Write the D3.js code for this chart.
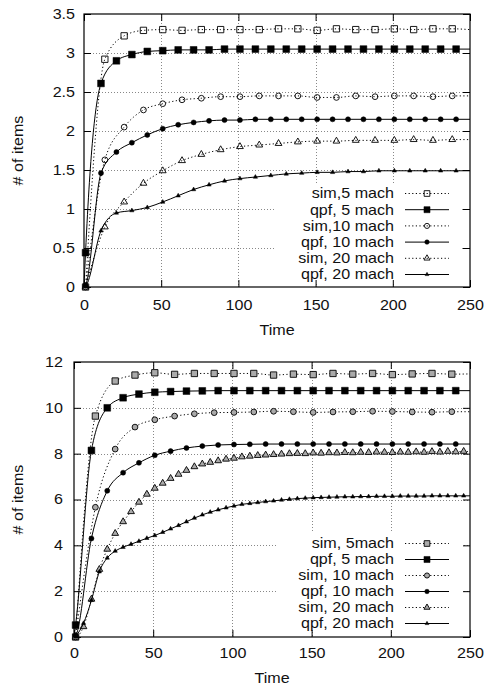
<!DOCTYPE html>
<html>
<head>
<meta charset="utf-8">
<script src="https://cdn.jsdelivr.net/npm/d3@7"></script>
<style>
  body { margin: 0; background: #fff; }
  svg text { font-family: "Liberation Sans", Arial, sans-serif; font-size: 14px; fill: #111; }
</style>
</head>
<body>
<div class="d3-chart"></div>
<script>
// time stamps of the samples (sim every 12.5, qpf every 10, dense runs every 5)
const tSim = [1, 13.5, 26, 38.5, 51, 63.5, 76, 88.5, 101, 113.5, 126, 138.5, 151, 163.5, 176, 188.5, 201, 213.5, 226, 238.5, 250];
const tQpf = [0, 1, 11, 21, 31, 41, 51, 61, 71, 81, 91, 101, 111, 121, 131, 141, 151, 161, 171, 181, 191, 201, 211, 221, 231, 241, 250];
const tFive = [0, 1, 6, 11, 16, 21, 26, 31, 36, 41, 46, 51, 56, 61, 66, 71, 76, 81, 86, 91, 96, 101, 106, 111, 116, 121, 126, 131, 136, 141, 146, 151, 156, 161, 166, 171, 176, 181, 186, 191, 196, 201, 206, 211, 216, 221, 226, 231, 236, 241, 246, 250];

// upper plot
const sim5A = [0, 2.92, 3.22, 3.29, 3.30, 3.29, 3.30, 3.30, 3.30, 3.30, 3.31, 3.31, 3.29, 3.31, 3.30, 3.30, 3.31, 3.30, 3.31, 3.31, 3.30];
const qpf5A = [0, 0.44, 2.61, 2.90, 2.98, 3.02, 3.03, 3.04, 3.04, 3.04, 3.05, 3.05, 3.05, 3.05, 3.05, 3.05, 3.05, 3.05, 3.05, 3.05, 3.05, 3.05, 3.05, 3.05, 3.05, 3.05, 3.05];
const sim10A = [0, 1.63, 2.05, 2.27, 2.35, 2.40, 2.42, 2.44, 2.44, 2.45, 2.45, 2.45, 2.43, 2.43, 2.45, 2.44, 2.45, 2.45, 2.44, 2.45, 2.45];
const qpf10A = [0, 0.02, 1.46, 1.73, 1.85, 1.95, 2.03, 2.08, 2.11, 2.13, 2.14, 2.14, 2.15, 2.15, 2.15, 2.15, 2.15, 2.15, 2.15, 2.15, 2.15, 2.15, 2.15, 2.15, 2.15, 2.15, 2.15];
const sim20A = [0, 0.77, 1.09, 1.33, 1.49, 1.62, 1.70, 1.76, 1.80, 1.82, 1.84, 1.86, 1.87, 1.87, 1.88, 1.88, 1.88, 1.89, 1.88, 1.89, 1.89];
const qpf20A = [0, 0.01, 0.72, 0.95, 0.98, 1.02, 1.09, 1.17, 1.25, 1.31, 1.36, 1.39, 1.41, 1.43, 1.45, 1.46, 1.47, 1.47, 1.48, 1.48, 1.49, 1.49, 1.49, 1.49, 1.49, 1.49, 1.49];

// lower plot
const sim5B = [0, 9.64, 11.17, 11.43, 11.53, 11.46, 11.50, 11.50, 11.50, 11.50, 11.43, 11.47, 11.45, 11.50, 11.47, 11.50, 11.45, 11.48, 11.50, 11.47, 11.48];
const qpf5B = [0, 0.52, 8.14, 10.0, 10.44, 10.6, 10.68, 10.71, 10.73, 10.74, 10.75, 10.75, 10.75, 10.75, 10.75, 10.75, 10.75, 10.75, 10.75, 10.75, 10.75, 10.75, 10.75, 10.75, 10.75, 10.75, 10.75];
const sim10B = [0, 5.66, 8.2, 9.16, 9.48, 9.64, 9.74, 9.79, 9.80, 9.82, 9.85, 9.83, 9.80, 9.82, 9.83, 9.85, 9.84, 9.82, 9.81, 9.83, 9.83];
const qpf10B = [0, 0.05, 4.3, 6.38, 7.17, 7.6, 7.93, 8.11, 8.25, 8.33, 8.38, 8.40, 8.41, 8.42, 8.42, 8.42, 8.42, 8.42, 8.42, 8.42, 8.42, 8.42, 8.42, 8.42, 8.42, 8.42, 8.42];
const sim20B = [0, 0, 0.45, 1.65, 2.95, 3.83, 4.52, 5.03, 5.47, 5.88, 6.23, 6.49, 6.71, 6.92, 7.10, 7.27, 7.43, 7.55, 7.62, 7.69, 7.76, 7.80, 7.86, 7.89, 7.92, 7.94, 7.96, 7.98, 8.00, 8.01, 8.00, 8.03, 8.02, 8.04, 8.03, 8.05, 8.04, 8.06, 8.05, 8.07, 8.06, 8.05, 8.07, 8.06, 8.08, 8.06, 8.09, 8.07, 8.10, 8.08, 8.10, 8.09];
const qpf20B = [0, 0.05, 0.6, 1.6, 2.85, 3.45, 3.75, 3.92, 4.05, 4.18, 4.31, 4.43, 4.57, 4.72, 4.87, 5.03, 5.19, 5.33, 5.45, 5.55, 5.64, 5.72, 5.79, 5.83, 5.87, 5.91, 5.94, 5.98, 6.01, 6.04, 6.06, 6.08, 6.09, 6.10, 6.11, 6.12, 6.12, 6.13, 6.13, 6.14, 6.14, 6.14, 6.15, 6.15, 6.15, 6.15, 6.16, 6.16, 6.16, 6.16, 6.16, 6.16];

const namesTop = ["sim,5 mach", "qpf, 5 mach", "sim,10 mach", "qpf, 10 mach", "sim, 20 mach", "qpf, 20 mach"];
const namesBottom = ["sim, 5mach", "qpf, 5 mach", "sim, 10 mach", "qpf, 10 mach", "sim, 20 mach", "qpf, 20 mach"];

const xTicks = [0, 50, 100, 150, 200, 250];
const yTicksTop = [0, 0.5, 1, 1.5, 2, 2.5, 3, 3.5];
const yTicksBottom = [0, 2, 4, 6, 8, 10, 12];

const W = 486, H = 690;
const STRETCH = 1.15;  // the source font runs wide

const svg = d3.select(".d3-chart").append("svg")
  .attr("width", W).attr("height", H);

// marker + line style per series slot
const styles = [
  {dash: "1.2,2.4", sym: d3.symbolSquare, size: 40, filled: false},
  {dash: null, sym: d3.symbolSquare, size: 46, filled: true},
  {dash: "1.2,2.4", sym: d3.symbolCircle, size: 26, filled: false},
  {dash: null, sym: d3.symbolCircle, size: 20, filled: true},
  {dash: "1.2,2.4", sym: d3.symbolTriangle, size: 20, filled: false},
  {dash: null, sym: d3.symbolTriangle, size: 8, filled: true}
];

function drawPanel(p) {
  const x = d3.scaleLinear().domain([0, 250]).range([p.left, p.right]);
  const y = d3.scaleLinear().domain([0, p.yMax]).range([p.bottom, p.top]);
  const g = svg.append("g");

  // dotted grid
  g.append("g").selectAll("line")
    .data(xTicks.slice(1, -1))
    .join("line")
      .attr("x1", d => Math.round(x(d)) + 0.5).attr("x2", d => Math.round(x(d)) + 0.5)
      .attr("y1", p.top).attr("y2", p.bottom)
      .attr("stroke", "#888").attr("stroke-dasharray", "1,2");
  g.append("g").selectAll("line")
    .data(p.yTicks.slice(1, -1))
    .join("line")
      .attr("x1", p.left).attr("x2", p.right)
      .attr("y1", d => Math.round(y(d)) + 0.5).attr("y2", d => Math.round(y(d)) + 0.5)
      .attr("stroke", "#888").attr("stroke-dasharray", "1,2");

  // opaque key box
  g.append("rect")
    .attr("x", p.key.x).attr("y", p.key.y)
    .attr("width", p.key.w).attr("height", p.key.h)
    .attr("fill", "#fff");

  const line = d3.line()
    .x(d => x(d[0]))
    .y(d => y(d[1]))
    .curve(d3.curveMonotoneX);

  p.series.forEach((s, i) => {
    const st = styles[i];
    const pts = s.t.map((t, j) => [t, s.v[j]]);
    g.append("path")
      .datum(pts)
      .attr("d", line)
      .attr("fill", "none")
      .attr("stroke", "#000")
      .attr("stroke-width", 1)
      .attr("stroke-dasharray", st.dash);
    g.append("g").selectAll("path")
      .data(pts.filter(d => d[0] > 0 && d[0] < 250))
      .join("path")
        .attr("transform", d => `translate(${x(d[0])},${y(d[1])})`)
        .attr("d", d3.symbol(st.sym, st.size))
        .attr("fill", st.filled ? "#000" : p.hollowFill)
        .attr("stroke", "#000")
        .attr("stroke-width", st.filled ? 0.5 : 0.9);
  });

  // key rows
  const key = g.append("g");
  p.names.forEach((name, i) => {
    const st = styles[i];
    const ry = p.key.row0 + i * p.key.step;
    key.append("text")
      .attr("transform", `translate(${p.key.textRight},${ry}) scale(${STRETCH},1)`)
      .attr("dy", "0.35em")
      .attr("text-anchor", "end")
      .text(name);
    key.append("line")
      .attr("x1", p.key.lineX0).attr("x2", p.key.lineX1)
      .attr("y1", ry).attr("y2", ry)
      .attr("stroke", "#000").attr("stroke-width", 1)
      .attr("stroke-dasharray", st.dash);
    key.append("path")
      .attr("transform", `translate(${(p.key.lineX0 + p.key.lineX1) / 2},${ry})`)
      .attr("d", d3.symbol(st.sym, st.size * 0.8))
      .attr("fill", st.filled ? "#000" : p.hollowFill)
      .attr("stroke", "#000")
      .attr("stroke-width", st.filled ? 0.5 : 0.9);
  });

  // axes with inward (mirrored) ticks
  const fmt = d => String(d);
  const bottomAx = g.append("g").attr("transform", `translate(0,${p.bottom})`)
    .call(d3.axisBottom(x).tickValues(xTicks).tickSize(-7).tickPadding(p.xPad).tickFormat(fmt));
  const leftAx = g.append("g").attr("transform", `translate(${p.left},0)`)
    .call(d3.axisLeft(y).tickValues(p.yTicks).tickSize(-7).tickPadding(p.yPad / STRETCH).tickFormat(fmt));
  const topAx = g.append("g").attr("transform", `translate(0,${p.top})`)
    .call(d3.axisTop(x).tickValues(xTicks).tickSize(-7).tickFormat(""));
  const rightAx = g.append("g").attr("transform", `translate(${p.right},0)`)
    .call(d3.axisRight(y).tickValues(p.yTicks).tickSize(-7).tickFormat(""));
  [bottomAx, leftAx, topAx, rightAx].forEach(a => a.select(".domain").remove());
  [bottomAx, leftAx].forEach(a => a.selectAll("text").attr("transform", `scale(${STRETCH},1)`));

  g.append("rect")
    .attr("x", p.left).attr("y", p.top)
    .attr("width", p.right - p.left).attr("height", p.bottom - p.top)
    .attr("fill", "none").attr("stroke", "#000").attr("stroke-width", 1.2);

  g.append("text")
    .attr("transform", `translate(${(p.left + p.right) / 2},${p.xTitleY}) scale(${STRETCH},1)`)
    .attr("text-anchor", "middle")
    .text("Time");
  g.append("text")
    .attr("transform", `translate(23,${(p.top + p.bottom) / 2}) rotate(-90) scale(${STRETCH},1)`)
    .attr("text-anchor", "middle")
    .text("# of items");
}

drawPanel({
  left: 84, right: 470, top: 14, bottom: 287,
  yMax: 3.5, yTicks: yTicksTop, xPad: 13, yPad: 9, xTitleY: 335,
  hollowFill: "none",
  names: namesTop,
  series: [
    {t: tSim, v: sim5A}, {t: tQpf, v: qpf5A},
    {t: tSim, v: sim10A}, {t: tQpf, v: qpf10A},
    {t: tSim, v: sim20A}, {t: tQpf, v: qpf20A}
  ],
  key: {x: 276, y: 185, w: 186, h: 98, row0: 193.5, step: 16.2, textRight: 394, lineX0: 405, lineX1: 449}
});

drawPanel({
  left: 74, right: 470, top: 362, bottom: 637,
  yMax: 12, yTicks: yTicksBottom, xPad: 11, yPad: 11, xTitleY: 683,
  hollowFill: "#aaa",
  names: namesBottom,
  series: [
    {t: tSim, v: sim5B}, {t: tQpf, v: qpf5B},
    {t: tSim, v: sim10B}, {t: tQpf, v: qpf10B},
    {t: tFive, v: sim20B}, {t: tFive, v: qpf20B}
  ],
  key: {x: 276, y: 533, w: 186, h: 99, row0: 543.5, step: 16, textRight: 394, lineX0: 405, lineX1: 449}
});
</script>
</body>
</html>
